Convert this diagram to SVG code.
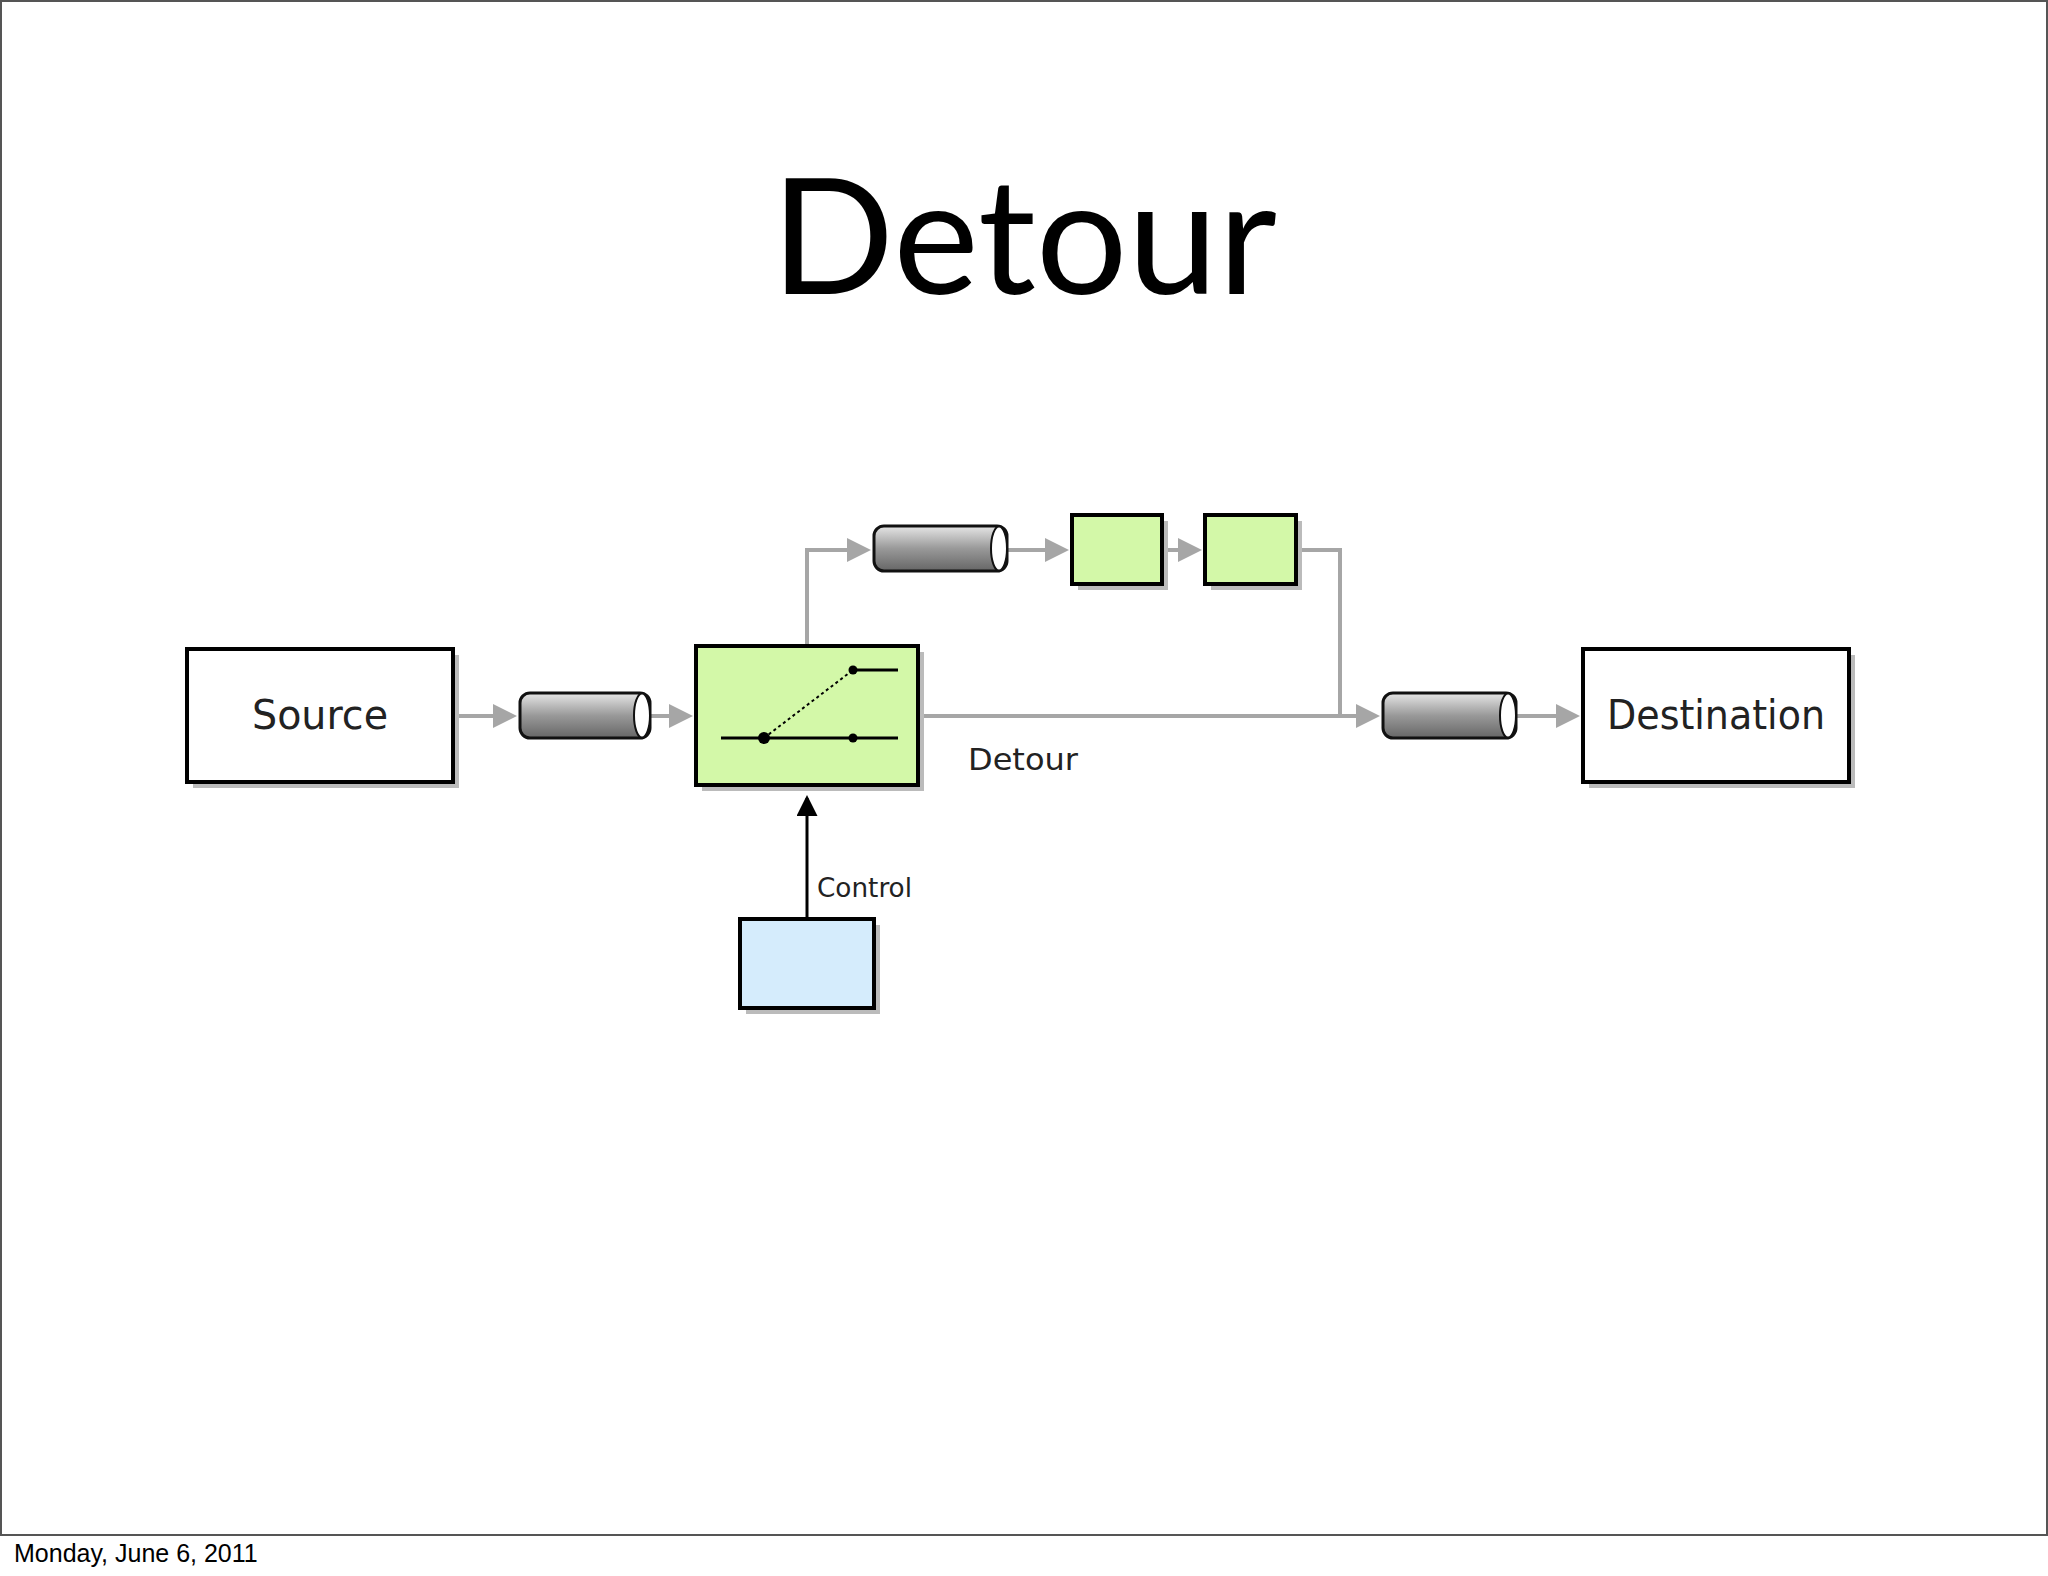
<svg xmlns="http://www.w3.org/2000/svg" width="2048" height="1576" viewBox="0 0 2048 1576">
<style>
.box{stroke:#000;stroke-width:4}
.sh{fill:#bbb}
.flow{stroke:#a6a6a6;stroke-width:4;fill:none}
.lbl{font-family:"DejaVu Sans",sans-serif;fill:#222}
.cyl{fill:url(#g);stroke:#111;stroke-width:3}
</style>
<defs>
<linearGradient id="g" x1="0" y1="0" x2="0" y2="1"><stop offset="0" stop-color="#e6e6e6"/><stop offset="0.5" stop-color="#999"/><stop offset="1" stop-color="#666"/></linearGradient>
<marker id="ga" markerWidth="6" markerHeight="6" refX="5" refY="3" orient="auto" markerUnits="strokeWidth"><path d="M0,0L6,3L0,6z" fill="#a6a6a6"/></marker>
<marker id="ba" markerWidth="7" markerHeight="7" refX="6" refY="3.5" orient="auto" markerUnits="strokeWidth"><path d="M0,0L7,3.5L0,7z" fill="#000"/></marker>
</defs>
<rect x="1" y="1" width="2046" height="1534" fill="#fff" stroke="#555" stroke-width="2"/>
<text x="1024" y="294" text-anchor="middle" font-family="Lato,sans-serif" font-size="162" fill="#000">Detour</text>
<text x="14" y="1562" font-family="Liberation Sans,sans-serif" font-size="25" fill="#000">Monday, June 6, 2011</text>
<g id="connectors">
<path class="flow" d="M453,716H513" marker-end="url(#ga)"/>
<path class="flow" d="M650,716H689" marker-end="url(#ga)"/>
<path class="flow" d="M918,716H1376" marker-end="url(#ga)"/>
<path class="flow" d="M807,646V550H867" marker-end="url(#ga)"/>
<path class="flow" d="M1007,550H1065" marker-end="url(#ga)"/>
<path class="flow" d="M1162,550H1198" marker-end="url(#ga)"/>
<path class="flow" d="M1296,550H1340V716"/>
<path class="flow" d="M1516,716H1576" marker-end="url(#ga)"/>
<path d="M807,919V798" stroke="#000" stroke-width="3" marker-end="url(#ba)"/>
</g>
<g id="source"><rect class="sh" x="193" y="655" width="266" height="133"/><rect class="box" x="187" y="649" width="266" height="133" fill="#fff"/><text class="lbl" x="320" y="729" text-anchor="middle" font-size="40" textLength="136" lengthAdjust="spacingAndGlyphs">Source</text></g>
<g id="ch1"><rect class="cyl" x="520" y="693" width="130" height="45" rx="10"/><ellipse cx="642" cy="715.5" rx="8" ry="22" fill="#fff" stroke="#111" stroke-width="2"/></g>
<g id="detour"><rect class="sh" x="702" y="652" width="222" height="139"/><rect class="box" x="696" y="646" width="222" height="139" fill="#d3f8a8"/>
<path d="M721,738H898M853,670H898" stroke="#000" stroke-width="3"/>
<path d="M764,738L853,670" stroke="#000" stroke-width="2" stroke-dasharray="3,3"/>
<circle cx="764" cy="738" r="6"/><circle cx="853" cy="738" r="4.5"/><circle cx="853" cy="670" r="4.5"/>
<text class="lbl" x="968" y="770" font-size="31" textLength="110" lengthAdjust="spacingAndGlyphs">Detour</text></g>
<g id="ch2"><rect class="cyl" x="874" y="526" width="133" height="45" rx="10"/><ellipse cx="999" cy="548.5" rx="8" ry="22" fill="#fff" stroke="#111" stroke-width="2"/></g>
<g id="f1"><rect class="sh" x="1078" y="521" width="90" height="69"/><rect class="box" x="1072" y="515" width="90" height="69" fill="#d3f8a8"/></g>
<g id="f2"><rect class="sh" x="1211" y="521" width="91" height="69"/><rect class="box" x="1205" y="515" width="91" height="69" fill="#d3f8a8"/></g>
<g id="ch3"><rect class="cyl" x="1383" y="693" width="133" height="45" rx="10"/><ellipse cx="1508" cy="715.5" rx="8" ry="22" fill="#fff" stroke="#111" stroke-width="2"/></g>
<g id="destination"><rect class="sh" x="1589" y="655" width="266" height="133"/><rect class="box" x="1583" y="649" width="266" height="133" fill="#fff"/><text class="lbl" x="1716" y="729" text-anchor="middle" font-size="40" textLength="218" lengthAdjust="spacingAndGlyphs">Destination</text></g>
<g id="control"><rect class="sh" x="746" y="925" width="134" height="89"/><rect class="box" x="740" y="919" width="134" height="89" fill="#d5ecfc"/><text class="lbl" x="817" y="897" font-size="27" textLength="95" lengthAdjust="spacingAndGlyphs">Control</text></g>
</svg>
